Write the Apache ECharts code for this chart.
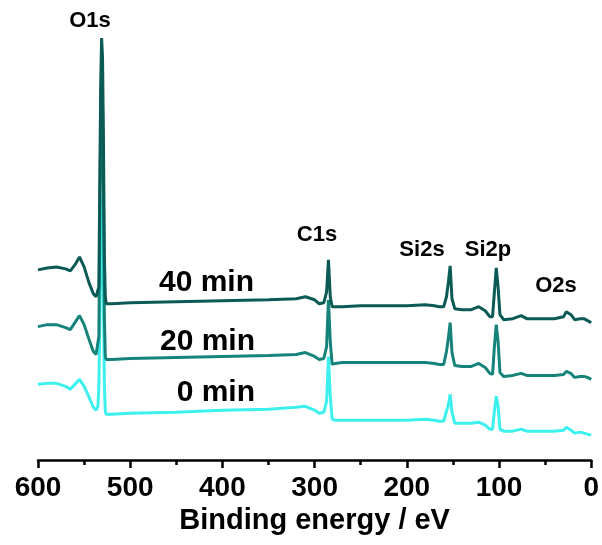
<!DOCTYPE html>
<html>
<head>
<meta charset="utf-8">
<script src="https://cdn.jsdelivr.net/npm/echarts@6/dist/echarts.min.js"></script>
<style>
  html, body { margin: 0; padding: 0; background: #fff; }
  #cn { width: 602px; height: 545px; }
</style>
</head>
<body>
<div id="cn"></div>
<script>
'use strict';

// binding energy (eV), shared by the three spectra
const arrEnergy = [
    600, 590, 580, 570, 565, 560, 555, 550, 545, 540,
    537, 535, 534, 533, 532, 531, 530, 529, 528, 527,
    526, 520, 500, 450, 400, 350, 320, 310, 300, 295,
    290, 287, 285, 283, 281, 278, 270, 250, 220, 200,
    180, 170, 165, 160, 157, 155, 153, 151, 148, 140,
    130, 122, 115, 110, 107, 105, 103, 101, 99, 95,
    85, 76, 70, 60, 40, 30, 27, 25, 22, 18,
    12, 8, 4, 0
];

// intensity (a.u., stacked with offsets)
const arr40min = [
    191, 193, 194, 192, 190, 196, 204, 194, 179, 167,
    164, 166, 174, 279, 379, 424, 404, 321, 204, 164,
    157, 157, 158, 159, 160, 161, 162, 164, 161, 157,
    158, 169, 201, 164, 154, 154, 154, 155, 155, 155,
    156, 155, 154, 154, 164, 178, 195, 162, 152, 151,
    151, 154, 150, 144, 144, 169, 193, 174, 146, 141,
    142, 145, 142, 142, 142, 144, 149, 151, 146, 141,
    142, 142, 140, 138
];

const arr20min = [
    134, 136, 136, 133, 131, 138, 145, 136, 122, 109,
    106, 108, 124, 234, 334, 384, 354, 264, 144, 104,
    101, 101, 102, 103, 104, 105, 106, 108, 104, 101,
    102, 114, 161, 119, 96, 97, 98, 98, 98, 98,
    98, 97, 96, 96, 109, 122, 138, 108, 95, 94,
    94, 97, 93, 87, 86, 114, 136, 119, 88, 84,
    85, 87, 85, 85, 85, 86, 89, 91, 87, 83,
    84, 84, 83, 81
];

const arr0min = [
    76, 77, 77, 74, 71, 76, 81, 74, 64, 53,
    50, 54, 74, 134, 214, 264, 234, 164, 74, 49,
    46, 46, 47, 48, 50, 51, 53, 54, 50, 47,
    48, 59, 104, 64, 41, 40, 40, 40, 40, 40,
    41, 40, 39, 39, 49, 55, 66, 48, 37, 37,
    37, 38, 35, 31, 31, 49, 64, 54, 31, 29,
    29, 31, 29, 29, 29, 30, 33, 34, 30, 27,
    28, 27, 26, 25
];

// peak labels and sample labels
const arrPeakName = ['O1s', 'C1s', 'Si2s', 'Si2p', 'O2s'];
const arrPeakPos = [[90, 21], [317, 235], [422, 250], [488, 250], [556, 286]];
const arrTimeName = ['40 min', '20 min', '0 min'];
const arrTimePos = [[254, 283], [255, 342], [255, 393]];

const strFont = '"Liberation Sans", Arial, sans-serif';

const mkSeries = (name, arr, color) => ({
    name: name,
    type: 'line',
    showSymbol: false,
    symbol: 'none',
    lineStyle: {
        width: 3,
        color: color
    },
    data: arrEnergy.map((e, i) => [e, arr[i]])
});

const pandaChart = echarts.init(document.getElementById('cn'));

const arrGraphic = [];
arrPeakName.forEach((t, i) => {
    arrGraphic.push({
        type: 'text',
        x: arrPeakPos[i][0],
        y: arrPeakPos[i][1],
        style: {
            text: t,
            font: 'bold 22px ' + strFont,
            fill: '#000',
            textAlign: 'center',
            textVerticalAlign: 'middle'
        }
    });
});
arrTimeName.forEach((t, i) => {
    arrGraphic.push({
        type: 'text',
        x: arrTimePos[i][0],
        y: arrTimePos[i][1],
        style: {
            text: t,
            font: 'bold 30px ' + strFont,
            fill: '#000',
            textAlign: 'right',
            textVerticalAlign: 'middle'
        }
    });
});

const option = {
    animation: false,
    grid: {
        left: 38,
        right: 9,
        top: 36,
        bottom: 83
    },
    xAxis: {
        type: 'value',
        min: 0,
        max: 600,
        interval: 100,
        inverse: true,
        name: 'Binding energy / eV',
        nameLocation: 'middle',
        nameGap: 44,
        nameTextStyle: {
            fontSize: 29,
            fontWeight: 'bold',
            fontFamily: strFont,
            color: '#000'
        },
        axisLine: {
            lineStyle: { color: '#000', width: 2.5 }
        },
        axisTick: {
            length: 8,
            lineStyle: { color: '#000', width: 2.5 }
        },
        minorTick: {
            show: true,
            splitNumber: 2,
            length: 5,
            lineStyle: { color: '#000', width: 2.5 }
        },
        axisLabel: {
            fontSize: 28,
            fontWeight: 'bold',
            fontFamily: strFont,
            color: '#000',
            margin: 12
        },
        splitLine: { show: false }
    },
    yAxis: {
        type: 'value',
        min: -2,
        max: 426,
        show: false
    },
    graphic: arrGraphic,
    series: [
        mkSeries('0 min', arr0min, '#3cf0ee'),
        mkSeries('20 min', arr20min, '#15837a'),
        mkSeries('40 min', arr40min, '#0b5a55')
    ]
};

pandaChart.setOption(option);
</script>
</body>
</html>
